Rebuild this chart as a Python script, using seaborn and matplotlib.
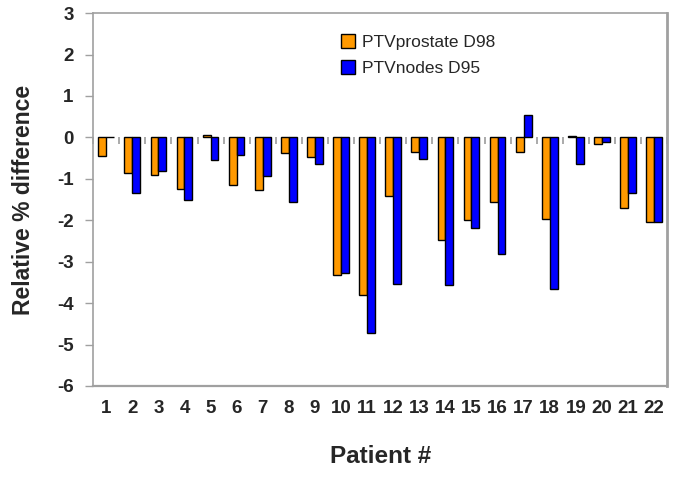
import seaborn as sns
import matplotlib.pyplot as plt
import pandas as pd

patients = [str(i) for i in range(1, 23)]
ptv_prostate_d98 = [-0.45, -0.85, -0.91, -1.25, 0.06, -1.14, -1.28, -0.37, -0.47, -3.32, -3.80,
                    -1.41, -0.34, -2.47, -2.00, -1.57, -0.35, -1.97, 0.03, -0.15, -1.70, -2.03]
ptv_nodes_d95 = [0.0, -1.33, -0.82, -1.50, -0.55, -0.43, -0.94, -1.57, -0.65, -3.28, -4.72,
                 -3.55, -0.53, -3.57, -2.19, -2.82, 0.54, -3.65, -0.63, -0.12, -1.33, -2.03]
series_names = ["PTVprostate D98", "PTVnodes D95"]
colors = ["#FF9900", "#0000FF"]

df = pd.DataFrame({
    "patient": patients * 2,
    "value": ptv_prostate_d98 + ptv_nodes_d95,
    "series": [series_names[0]] * len(patients) + [series_names[1]] * len(patients),
})

sns.set_theme(style="white")
plt.rcParams["font.family"] = ["Liberation Sans", "DejaVu Sans"]
plt.rcParams["axes.unicode_minus"] = False

fig = plt.figure(figsize=(6.85, 4.78), dpi=100)
ax = fig.add_axes([0.136, 0.1925, 0.838, 0.780])

sns.barplot(data=df, x="patient", y="value", hue="series", palette=colors, saturation=1,
            width=0.6, gap=0, edgecolor="black", linewidth=1.0, ax=ax)

ymin, ymax = -6, 3
ax.set_ylim(ymin, ymax)
ax.set_xlim(-0.5, len(patients) - 0.5)
ax.set_yticks(range(ymin, ymax + 1))

for s in ax.spines.values():
    s.set_color("#a0a0a0")
    s.set_linewidth(1.2)
ax.spines["right"].set_linewidth(2)
ax.spines["bottom"].set_linewidth(1.6)

ax.tick_params(axis="y", direction="out", length=6, color="#a0a0a0", width=1,
               labelsize=13.5, pad=8, left=True)
ax.tick_params(axis="x", length=0, labelsize=13.5, pad=10)
for lbl in ax.get_xticklabels() + ax.get_yticklabels():
    lbl.set_fontweight("bold")

# zero axis with category-boundary ticks
zero_pos = (0 - ymin) / (ymax - ymin)
sec = ax.secondary_xaxis(zero_pos)
sec.set_xticks([i - 0.5 for i in range(len(patients) + 1)])
sec.tick_params(direction="out", length=5, color="#a0a0a0", labelbottom=False,
                labeltop=False, top=False, bottom=True)
sec.spines["top"].set_visible(False)
sec.spines["bottom"].set_color("#a0a0a0")
sec.spines["bottom"].set_linewidth(1.2)

ax.set_xlabel("Patient #", fontsize=17.5, fontweight="bold", labelpad=20)
ax.set_ylabel("Relative % difference", fontsize=16.5, fontweight="bold", labelpad=16)

ax.legend(loc="upper left", bbox_to_anchor=(0.405, 0.985), frameon=False,
          fontsize=12.5, handlelength=0.8, handleheight=0.8, handletextpad=0.4,
          labelspacing=0.6)

fig.savefig("out.png", dpi=100)
